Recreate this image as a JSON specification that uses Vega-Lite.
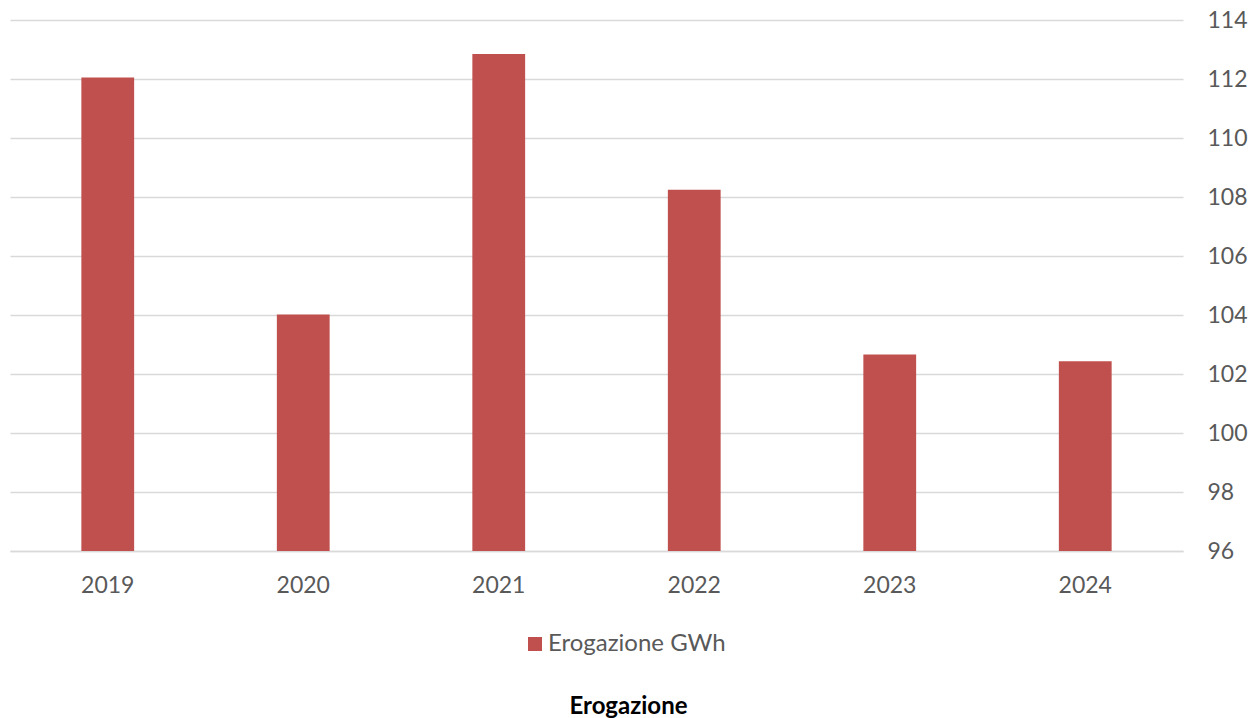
{
  "$schema": "https://vega.github.io/schema/vega-lite/v6.json",
  "autosize": {"type": "none"},
  "width": 1173,
  "height": 531,
  "padding": {"left": 10, "top": 20, "right": 69, "bottom": 167},
  "background": "white",
  "config": {
    "font": "Lato",
    "view": {"stroke": null}
  },
  "title": {
    "text": "Erogazione",
    "orient": "bottom",
    "anchor": "middle",
    "frame": "bounds",
    "fontSize": 24,
    "fontWeight": "bold",
    "color": "#000000",
    "font": "Lato",
    "offset": 39
  },
  "data": {
    "values": [
      {"anno": "2019", "valore": 112.05, "serie": "Erogazione GWh"},
      {"anno": "2020", "valore": 104.02, "serie": "Erogazione GWh"},
      {"anno": "2021", "valore": 112.85, "serie": "Erogazione GWh"},
      {"anno": "2022", "valore": 108.25, "serie": "Erogazione GWh"},
      {"anno": "2023", "valore": 102.66, "serie": "Erogazione GWh"},
      {"anno": "2024", "valore": 102.43, "serie": "Erogazione GWh"}
    ]
  },
  "mark": {"type": "bar", "clip": true},
  "encoding": {
    "x": {
      "field": "anno",
      "type": "nominal",
      "scale": {"paddingInner": 0.73, "paddingOuter": 0.365},
      "axis": {
        "title": null,
        "labelAngle": 0,
        "labelFontSize": 23,
        "labelColor": "#595959",
        "labelPadding": 23,
        "ticks": false,
        "domain": true,
        "domainColor": "#d9d9d9",
        "domainWidth": 1.5,
        "grid": false
      }
    },
    "y": {
      "field": "valore",
      "type": "quantitative",
      "scale": {"domain": [96, 114], "nice": false, "zero": false},
      "axis": {
        "orient": "right",
        "title": null,
        "values": [96, 98, 100, 102, 104, 106, 108, 110, 112, 114],
        "labelFontSize": 23,
        "labelColor": "#595959",
        "labelPadding": 24,
        "labelAlign": "left",
        "ticks": false,
        "domain": false,
        "grid": true,
        "gridColor": "#d9d9d9",
        "gridWidth": 1.5
      }
    },
    "color": {
      "field": "serie",
      "type": "nominal",
      "scale": {"range": ["#C0504D"]},
      "legend": {
        "title": null,
        "orient": "none",
        "legendX": 513,
        "legendY": 612,
        "padding": 0,
        "direction": "horizontal",
        "symbolType": "square",
        "symbolSize": 196,
        "symbolStrokeWidth": 0,
        "labelFontSize": 24,
        "labelLimit": 400,
        "labelColor": "#595959",
        "labelOffset": 1
      }
    }
  }
}
